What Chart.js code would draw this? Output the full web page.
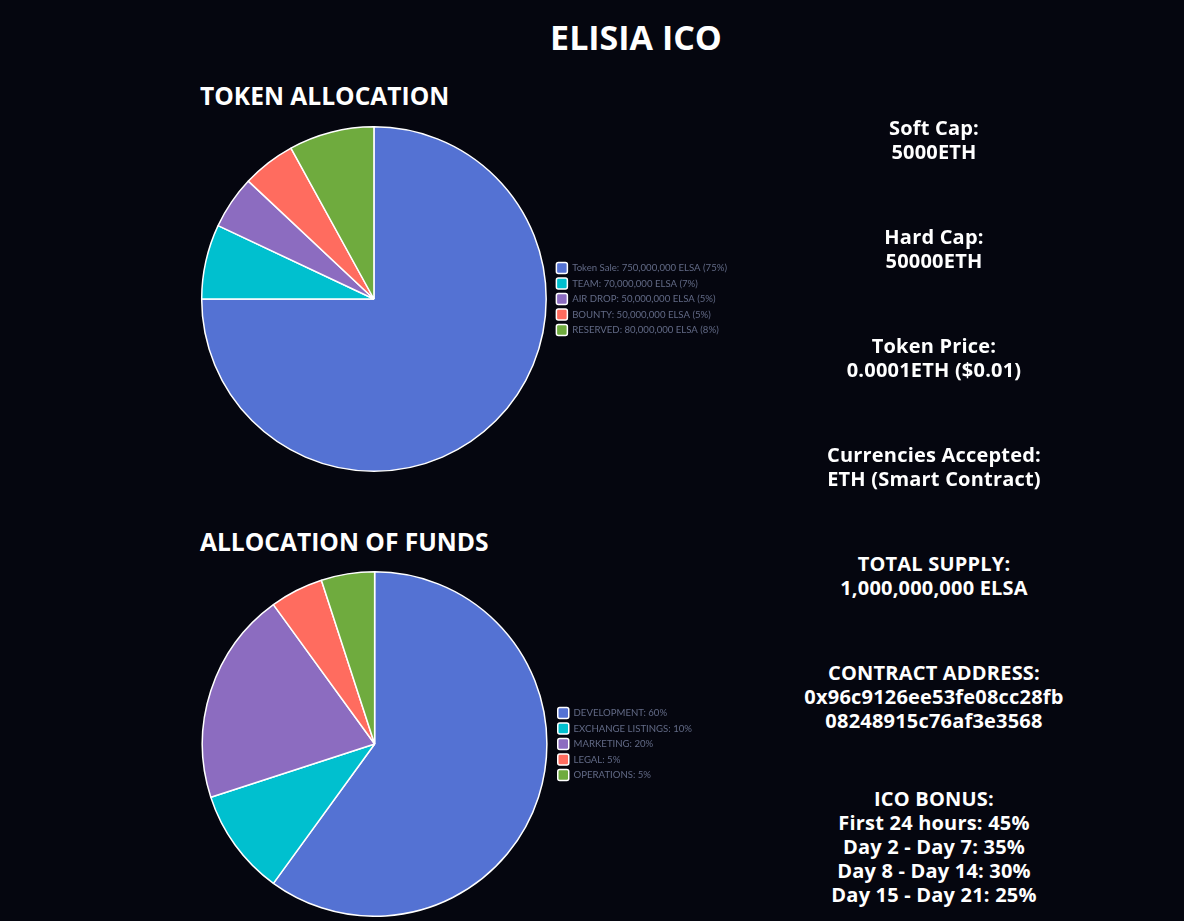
<!DOCTYPE html>
<html>
<head>
<meta charset="utf-8">
<script src="https://cdn.jsdelivr.net/npm/chart.js@4"></script>
<style>
  body { margin: 0; background: #05060f; color: #fff; font-family: "Open Sans", sans-serif; width: 1184px; height: 921px; overflow: hidden; position: relative; }
  h1 { position: absolute; left: 0; width: 1272px; top: 14px; margin: 0; text-align: center; font-size: 34px; font-weight: 700; }
  h2 { position: absolute; left: 200px; margin: 0; font-size: 24.6px; font-weight: 700; }
  .chart-box { position: absolute; left: 196px; height: 346px; }
  .info { position: absolute; left: 734px; width: 400px; text-align: center; font-size: 20px; letter-spacing: 0.2px; font-weight: 700; line-height: 24px; }
</style>
</head>
<body>
<h1>ELISIA ICO</h1>
<h2 style="top:79px">TOKEN ALLOCATION</h2>
<div class="chart-box" style="top:126px; width:541px"><canvas id="token-chart"></canvas></div>
<h2 style="top:525px">ALLOCATION OF FUNDS</h2>
<div class="chart-box" style="top:571px; width:506px"><canvas id="funds-chart"></canvas></div>

<div class="info" style="top:116px">Soft Cap:<br>5000ETH</div>
<div class="info" style="top:225px">Hard Cap:<br>50000ETH</div>
<div class="info" style="top:334px">Token Price:<br>0.0001ETH ($0.01)</div>
<div class="info" style="top:443px">Currencies Accepted:<br>ETH (Smart Contract)</div>
<div class="info" style="top:552px">TOTAL SUPPLY:<br>1,000,000,000 ELSA</div>
<div class="info" style="top:661px">CONTRACT ADDRESS:<br>0x96c9126ee53fe08cc28fb<br>08248915c76af3e3568</div>
<div class="info" style="top:787px">ICO BONUS:<br>First 24 hours: 45%<br>Day 2 - Day 7: 35%<br>Day 8 - Day 14: 30%<br>Day 15 - Day 21: 25%</div>

<script>
// Dados dos gráficos
const tokenLabels = ['Token Sale: 750,000,000 ELSA (75%)', 'TEAM: 70,000,000 ELSA (7%)', 'AIR DROP: 50,000,000 ELSA (5%)', 'BOUNTY: 50,000,000 ELSA (5%)', 'RESERVED: 80,000,000 ELSA (8%)'];
const tokenValues = [750000000, 70000000, 50000000, 50000000, 80000000];

const fundsLabels = ['DEVELOPMENT: 60%', 'EXCHANGE LISTINGS: 10%', 'MARKETING: 20%', 'LEGAL: 5%', 'OPERATIONS: 5%'];
const fundsValues = [60, 10, 20, 5, 5];

const sliceColors = ['#5472d3', '#00c0cf', '#8c6cc0', '#ff6c5f', '#6fab3e'];

// Renderiza um gráfico de pizza com legenda à direita
function renderPie(id, labels, data) {
  const ctx = document.getElementById(id).getContext('2d');
  new Chart(ctx, {
    type: 'pie',
    data: {
      labels: labels,
      datasets: [{
        data: data,
        backgroundColor: sliceColors,
        borderColor: '#ffffff',
        borderWidth: 1.5
      }]
    },
    options: {
      responsive: true,
      maintainAspectRatio: false,
      animation: false,
      layout: { padding: 0 },
      plugins: {
        legend: {
          position: 'right',
          labels: {
            color: '#626a86',
            font: { family: 'Lato', size: 9.6 },
            boxWidth: 11,
            boxHeight: 11,
            padding: 4.5,
            useBorderRadius: true,
            borderRadius: 2
          }
        },
        tooltip: { enabled: false }
      }
    }
  });
}

renderPie('token-chart', tokenLabels, tokenValues);
renderPie('funds-chart', fundsLabels, fundsValues);
</script>
</body>
</html>
